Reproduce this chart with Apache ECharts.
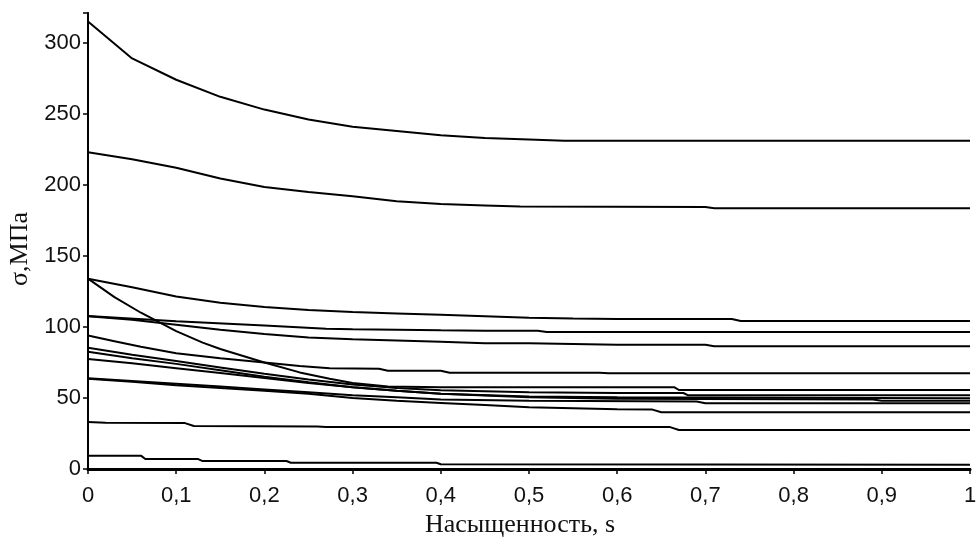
<!DOCTYPE html>
<html><head><meta charset="utf-8">
<script src="https://cdn.jsdelivr.net/npm/echarts@6/dist/echarts.min.js"></script>
<style>html,body{margin:0;padding:0;background:#fff}#c{width:978px;height:539px}</style>
</head><body><div id="c"></div>
<script>
const xTicks = [0,0.1,0.2,0.3,0.4,0.5,0.6,0.7,0.8,0.9,1];
const yTicks = [0,50,100,150,200,250,300];
const xLabel = 'Насыщенность, s';
const yLabel = 'σ,МПа';

const c1 = [[0,315],[0.05,289],[0.1,274],[0.15,262],[0.2,253],[0.25,246],[0.3,241],[0.35,238],[0.4,235],[0.45,233],[0.5,232],[0.54,231],[1,231]];
const c2 = [[0,223],[0.05,218],[0.1,212],[0.15,204.5],[0.2,198.5],[0.25,195],[0.3,192],[0.35,188.5],[0.4,186.5],[0.45,185.5],[0.49,184.7],[0.7,184.5],[0.71,183.6],[1,183.5]];
const c3 = [[0,134],[0.05,128],[0.1,121.5],[0.15,117],[0.2,114],[0.25,112],[0.3,110.5],[0.35,109.5],[0.4,108.5],[0.45,107.5],[0.5,106.5],[0.55,106],[0.6,105.6],[0.73,105.6],[0.74,104.2],[1,104.2]];
const c4 = [[0,134],[0.03,121],[0.06,110],[0.1,97],[0.13,89],[0.15,84.5],[0.2,75],[0.24,68],[0.274,63.5],[0.3,60.5],[0.34,58],[0.4,57.5],[0.5,57.5],[0.665,57.5],[0.67,55.6],[1,55.6]];
const c5 = [[0,107.7],[0.1,104],[0.2,101],[0.27,98.8],[0.3,98.4],[0.4,97.6],[0.45,97.4],[0.51,97.4],[0.52,96.5],[1,96.5]];
const c6 = [[0,107.5],[0.05,105],[0.1,101.5],[0.15,98],[0.2,95],[0.25,92.5],[0.3,91.3],[0.35,90.4],[0.4,89.5],[0.45,88.5],[0.5,88.5],[0.6,87.5],[0.7,87.5],[0.71,86.4],[1,86.4]];
const c7 = [[0,94],[0.03,90],[0.06,86],[0.1,81.5],[0.15,78],[0.2,75],[0.24,72.5],[0.274,71],[0.33,70.5],[0.34,69.2],[0.4,69.2],[0.41,67.8],[0.58,67.8],[0.59,67.4],[1,67.4]];
const c8 = [[0,85.4],[0.05,80.5],[0.1,76],[0.15,71.5],[0.2,67],[0.25,63],[0.3,59.5],[0.35,57],[0.4,55.5],[0.5,54],[0.6,53.5],[0.675,53.5],[0.68,52],[1,52]];
const c9 = [[0,82.6],[0.05,78],[0.1,74],[0.15,69.5],[0.2,65],[0.25,61],[0.3,57.5],[0.35,55],[0.4,53],[0.5,51],[0.6,50.5],[0.89,50],[1,49.8]];
const c10 = [[0,77.5],[0.05,74.5],[0.1,71],[0.15,67.5],[0.2,64],[0.25,60.5],[0.3,57.5],[0.35,55],[0.4,53],[0.5,50.5],[0.6,49.5],[0.89,49],[0.9,48.1],[1,48.1]];
const c11 = [[0,63.8],[0.05,62],[0.1,60],[0.15,58],[0.2,56],[0.25,54],[0.3,52],[0.35,50.5],[0.4,49],[0.5,48],[0.69,47.5],[0.7,46.3],[1,46.3]];
const c12 = [[0,63.5],[0.05,61.5],[0.1,59],[0.15,57],[0.2,55],[0.25,53],[0.3,50],[0.35,48],[0.4,46.5],[0.45,45],[0.5,43.5],[0.6,42],[0.64,41.8],[0.65,40],[1,40]];
const c13 = [[0,33],[0.02,32.5],[0.11,32.3],[0.12,30.3],[0.26,30],[0.27,29.5],[0.66,29.5],[0.67,27.5],[1,27.5]];
const c14 = [[0,9.4],[0.06,9.4],[0.065,7],[0.125,7],[0.13,5.6],[0.225,5.6],[0.23,4.4],[0.395,4.4],[0.4,3.3],[1,3]];
const curves = [c1,c2,c3,c4,c5,c6,c7,c8,c9,c10,c11,c12,c13,c14];

const chart = echarts.init(document.getElementById('c'), null, {renderer:'canvas'});
const sansFont = '"Liberation Sans", Arial, sans-serif';
const serifFont = '"Liberation Serif", "Times New Roman", serif';
chart.setOption({
  animation:false,
  backgroundColor:'#fff',
  grid:{left:88,right:8,top:13,bottom:70,containLabel:false,outerBoundsMode:'none'},
  xAxis:[{
    type:'value',min:0,max:1,interval:0.1,
    name:xLabel,nameLocation:'middle',nameGap:43,
    nameTextStyle:{fontFamily:serifFont,fontSize:26,color:'#111',padding:[0,18,0,0]},
    axisLine:{show:true,onZero:false,lineStyle:{color:'#000',width:2}},
    axisTick:{show:true,inside:false,length:5,lineStyle:{color:'#000',width:1.5}},
    axisLabel:{margin:16,fontFamily:sansFont,fontSize:22,color:'#111',
      formatter:v=>{const t=xTicks.find(t=>Math.abs(t-v)<1e-6);return t===undefined?'':String(t).replace('.',',');}},
    splitLine:{show:false}
  },{
    type:'value',position:'top',min:0,max:1,
    axisLine:{show:true,lineStyle:{color:'#000',width:3}},
    axisTick:{show:false},axisLabel:{show:false},splitLine:{show:false}
  }],
  yAxis:[{
    type:'value',min:0,max:321,interval:50,
    name:yLabel,nameLocation:'middle',nameGap:55,nameRotate:90,
    nameTextStyle:{fontFamily:serifFont,fontSize:26,color:'#111',padding:[0,16,0,0]},
    axisLine:{show:true,onZero:false,lineStyle:{color:'#000',width:2}},
    axisTick:{show:true,inside:false,length:5,lineStyle:{color:'#000',width:1.5}},
    axisLabel:{margin:7,fontFamily:sansFont,fontSize:22,color:'#111',
      formatter:v=>yTicks.includes(v)?String(v):''},
    splitLine:{show:false}
  },{
    type:'value',position:'right',min:0,max:321,
    axisLine:{show:true,lineStyle:{color:'#000',width:1.5}},
    axisTick:{show:false},axisLabel:{show:false},splitLine:{show:false}
  }],
  series:curves.map((d,i)=>({
    type:'line',data:d,showSymbol:false,symbol:'none',smooth:false,
    lineStyle:{color:'#000',width:2},xAxisIndex:0,yAxisIndex:0,silent:true
  }))
});
</script></body></html>
